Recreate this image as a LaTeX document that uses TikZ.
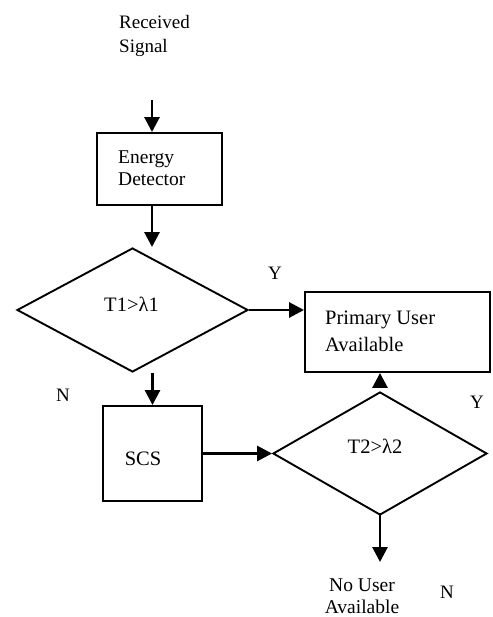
\documentclass[tikz,border=0pt]{standalone}
\usepackage{fontspec}
\setmainfont{Liberation Serif}
\usetikzlibrary{arrows.meta,shapes.geometric}
\begin{document}
\begin{tikzpicture}[x=1pt,y=-1pt,
  box/.style={draw,line width=1.9pt,inner sep=0pt},
  dia/.style={draw,diamond,line width=1.9pt,inner sep=0pt},
  arr/.style={line width=2.8pt,-{Triangle[length=15pt,width=15pt]}},
  txt/.style={inner sep=0pt,align=left,font=\fontsize{19}{24}\selectfont},
  edtxt/.style={inner sep=0pt,align=left,font=\fontsize{19.5}{22}\selectfont},
  big/.style={inner sep=0pt,align=left,font=\fontsize{20.5}{27}\selectfont},
  yn/.style={inner sep=0pt,font=\fontsize{19}{22}\selectfont}]
\useasboundingbox (0,0) rectangle (492,617);
% boxes
\node[box,minimum width=125pt,minimum height=72pt] (ed) at (159.5,169) {};
\node[box,minimum width=185pt,minimum height=80pt] (pu) at (397.5,332) {};
\node[box,minimum width=99pt,minimum height=95pt] (scs) at (152.5,453.5) {};
% diamonds
\node[dia,minimum width=231pt,minimum height=124pt] (d1) at (132.5,310) {};
\node[dia,minimum width=214pt,minimum height=123pt] (d2) at (380,453.5) {};
% texts (base = baseline of last line)
\node[big,anchor=base] (d1t) at (131.5,311) {T1>λ1};
\node[big,anchor=base] (d2t) at (375,453) {T2>λ2};
\node[txt,anchor=base west] (rs) at (119,53) {Received\\Signal};
\node[edtxt,anchor=base west] (edt) at (118,186) {Energy\\Detector};
\node[big,anchor=base west] (put) at (325,351) {Primary User\\Available};
\node[big,anchor=base] (scst) at (143,465) {SCS};
\node[edtxt,anchor=base,align=center] (nu) at (362,613) {No User\\Available};
\node[yn] (y1) at (275,273) {Y};
\node[yn] (y2) at (477,402) {Y};
\node[yn] (n1) at (63,395) {N};
\node[yn] (n2) at (447,592) {N};
% connectors
\coordinate (in) at (152,100);
\coordinate (out) at (380,562);
\draw[arr] (in) -- (in |- ed.north);
\draw[arr] (in |- ed.south) -- (in |- d1.north);
\draw[arr] (d1.east) -- (d1.east -| pu.west);
\draw[arr] (scs.north |- d1.south) -- (scs.north);
\draw[arr] (scs.east) -- (d2.west);
\draw[arr] ([yshift=12pt]d2.north) -- (d2.north |- pu.south);
\draw[arr] ([yshift=3pt]d2.south) -- (out);
\end{tikzpicture}
\end{document}
